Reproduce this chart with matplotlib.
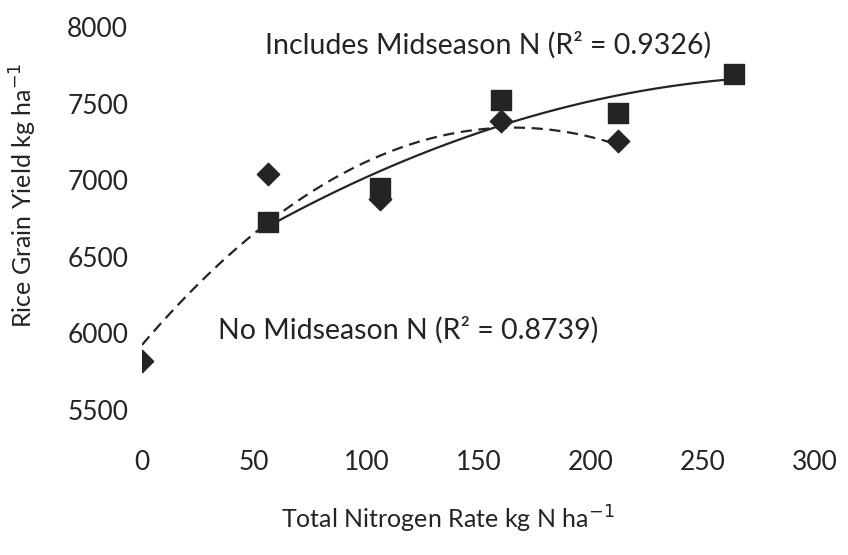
import matplotlib.pyplot as plt
import numpy as np

plt.rcParams['font.family'] = ['Lato', 'DejaVu Sans']

# total N rate (kg N/ha) and grain yield (kg/ha)
n_rate_no_mid = [0, 56, 106, 160, 212]
yield_no_mid = [5820, 7040, 6880, 7385, 7255]

n_rate_mid = [56, 106, 160, 212, 264]
yield_mid = [6725, 6950, 7523, 7438, 7690]

x_ticks = [0, 50, 100, 150, 200, 250, 300]
y_ticks = [5500, 6000, 6500, 7000, 7500, 8000]

ink = '#242424'

fig = plt.figure(figsize=(8.48, 5.55), dpi=100)
ax = fig.add_axes([0.1675, 0.2613, 0.7936, 0.6901])

# quadratic trendlines
c1 = np.polyfit(n_rate_no_mid, yield_no_mid, 2)
xs1 = np.linspace(min(n_rate_no_mid), max(n_rate_no_mid), 200)
ax.plot(xs1, np.polyval(c1, xs1), ls=(0, (5, 3)), color=ink, lw=1.6)

c2 = np.polyfit(n_rate_mid, yield_mid, 2)
xs2 = np.linspace(min(n_rate_mid), max(n_rate_mid), 200)
ax.plot(xs2, np.polyval(c2, xs2), ls='-', color=ink, lw=1.6)

ax.scatter(n_rate_no_mid, yield_no_mid, marker='D', s=130, color=ink, zorder=3)
ax.scatter(n_rate_mid, yield_mid, marker='s', s=190, color=ink, zorder=3)

ax.text(55, 7880, 'Includes Midseason N (R² = 0.9326)', fontsize=20.5,
        color=ink, va='center', ha='left')
ax.text(34, 6020, 'No Midseason N (R² = 0.8739)', fontsize=20.5,
        color=ink, va='center', ha='left')

ax.set_xlim(0, 300)
ax.set_ylim(5500, 8000)
ax.set_xticks(x_ticks)
ax.set_yticks(y_ticks)
ax.tick_params(axis='both', length=0, labelsize=19, colors=ink)
ax.tick_params(axis='x', pad=29)
ax.tick_params(axis='y', pad=10)
for s in ax.spines.values():
    s.set_visible(False)

ax.set_xlabel('Total Nitrogen Rate kg N ha$^{-1}$', fontsize=18, color=ink)
ax.set_ylabel('Rice Grain Yield kg ha$^{-1}$', fontsize=18, color=ink)
ax.xaxis.set_label_coords(0.455, -0.245)
ax.yaxis.set_label_coords(-0.153, 0.56)

fig.savefig('out.png', dpi=100)
